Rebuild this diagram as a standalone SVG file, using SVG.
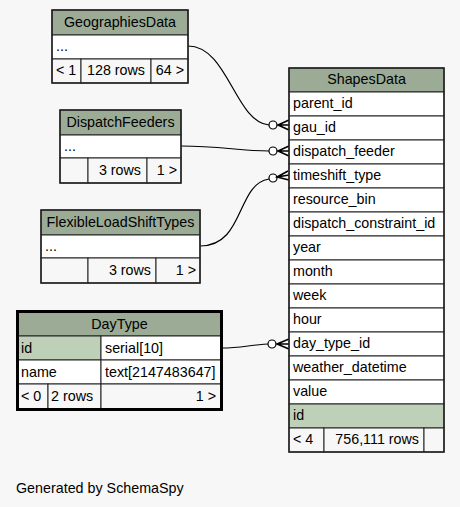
<svg xmlns="http://www.w3.org/2000/svg" width="460" height="507" viewBox="0 0 460 507">
<style>
text{font-family:"Liberation Sans",Arial,sans-serif;font-size:14.3px;fill:#000}
.hd{fill:#9bab96}
.row{fill:#ffffff}
.pk{fill:#bed1b8}
.ft{fill:#f7f7f7}
.cell{stroke:#222;stroke-width:1}
.outer{fill:none;stroke:#222;stroke-width:1.5}
.thick{fill:none;stroke:#000;stroke-width:3}
.c{text-anchor:middle}
.e{text-anchor:end}
.edge{fill:none;stroke:#000;stroke-width:1.2}
.odot{fill:#fff;stroke:#000;stroke-width:1.2}
.crow{fill:none;stroke:#000;stroke-width:1.6}
</style>
<rect x="0" y="0" width="460" height="507" fill="#f7f7f7"/>

<g id="edges">
  <path class="edge" d="M188,46 C228,46 235,122 269,125"/>
  <circle class="odot" cx="273" cy="125" r="4"/>
  <path class="crow" d="M289,120 L278,125 L289,130 M278,125 L289,125"/>

  <path class="edge" d="M181,146 C220,146 240,151 269,151"/>
  <circle class="odot" cx="273" cy="151" r="4"/>
  <path class="crow" d="M289,146 L278,151 L289,156 M278,151 L289,151"/>

  <path class="edge" d="M200,246 C245,246 236,184 269,179"/>
  <circle class="odot" cx="273" cy="178" r="4"/>
  <path class="crow" d="M288,171 L277,177 L289,180 M277,177 L289,175"/>

  <path class="edge" d="M222,348 C240,348 250,345 268,344"/>
  <circle class="odot" cx="272" cy="344" r="4"/>
  <path class="crow" d="M289,339 L277,344 L289,349 M277,344 L289,344"/>
</g>

<g id="GeographiesData">
  <rect class="hd cell" x="52" y="10" width="136" height="25"/>
  <rect class="row cell" x="52" y="35" width="136" height="24"/>
  <rect class="ft cell" x="52" y="59" width="29" height="24"/>
  <rect class="ft cell" x="81" y="59" width="70" height="24"/>
  <rect class="ft cell" x="151" y="59" width="37" height="24"/>
  <rect class="outer" x="52" y="10" width="136" height="73"/>
  <text class="c" x="120" y="27">GeographiesData</text>
  <text x="56" y="51">...</text>
  <text x="56" y="75">&lt; 1</text>
  <text class="e" x="145" y="75">128 rows</text>
  <text class="e" x="184" y="75">64 &gt;</text>
</g>

<g id="DispatchFeeders">
  <rect class="hd cell" x="60" y="110" width="121" height="25"/>
  <rect class="row cell" x="60" y="135" width="121" height="23"/>
  <rect class="ft cell" x="60" y="158" width="28" height="25"/>
  <rect class="ft cell" x="88" y="158" width="59" height="25"/>
  <rect class="ft cell" x="147" y="158" width="34" height="25"/>
  <rect class="outer" x="60" y="110" width="121" height="73"/>
  <text class="c" x="120.5" y="127">DispatchFeeders</text>
  <text x="64" y="151">...</text>
  <text class="e" x="141" y="175">3 rows</text>
  <text class="e" x="177" y="175">1 &gt;</text>
</g>

<g id="FlexibleLoadShiftTypes">
  <rect class="hd cell" x="41" y="210" width="159" height="25"/>
  <rect class="row cell" x="41" y="235" width="159" height="23"/>
  <rect class="ft cell" x="41" y="258" width="47" height="25"/>
  <rect class="ft cell" x="88" y="258" width="68" height="25"/>
  <rect class="ft cell" x="156" y="258" width="44" height="25"/>
  <rect class="outer" x="41" y="210" width="159" height="73"/>
  <text class="c" x="120.5" y="227">FlexibleLoadShiftTypes</text>
  <text x="45" y="251">...</text>
  <text class="e" x="151" y="275">3 rows</text>
  <text class="e" x="196" y="275">1 &gt;</text>
</g>

<g id="DayType">
  <rect class="hd cell" x="18" y="312" width="203" height="24"/>
  <rect class="pk cell" x="18" y="336" width="83" height="24"/>
  <rect class="row cell" x="101" y="336" width="120" height="24"/>
  <rect class="row cell" x="18" y="360" width="83" height="24"/>
  <rect class="row cell" x="101" y="360" width="120" height="24"/>
  <rect class="ft cell" x="18" y="384" width="30" height="25"/>
  <rect class="ft cell" x="48" y="384" width="53" height="25"/>
  <rect class="ft cell" x="101" y="384" width="120" height="25"/>
  <rect class="thick" x="17.5" y="311.5" width="204" height="98"/>
  <text class="c" x="119.5" y="329">DayType</text>
  <text x="21" y="353">id</text>
  <text x="105" y="353">serial[10]</text>
  <text x="21" y="377">name</text>
  <text x="105" y="377">text[2147483647]</text>
  <text x="21" y="401">&lt; 0</text>
  <text x="51" y="401">2 rows</text>
  <text class="e" x="216" y="401">1 &gt;</text>
</g>

<g id="ShapesData">
  <rect class="hd cell" x="289" y="68" width="155" height="24"/>
  <rect class="row cell" x="289" y="92" width="155" height="24"/>
  <rect class="row cell" x="289" y="116" width="155" height="24"/>
  <rect class="row cell" x="289" y="140" width="155" height="24"/>
  <rect class="row cell" x="289" y="164" width="155" height="24"/>
  <rect class="row cell" x="289" y="188" width="155" height="24"/>
  <rect class="row cell" x="289" y="212" width="155" height="24"/>
  <rect class="row cell" x="289" y="236" width="155" height="24"/>
  <rect class="row cell" x="289" y="260" width="155" height="24"/>
  <rect class="row cell" x="289" y="284" width="155" height="24"/>
  <rect class="row cell" x="289" y="308" width="155" height="24"/>
  <rect class="row cell" x="289" y="332" width="155" height="24"/>
  <rect class="row cell" x="289" y="356" width="155" height="24"/>
  <rect class="row cell" x="289" y="380" width="155" height="24"/>
  <rect class="pk cell" x="289" y="404" width="155" height="24"/>
  <rect class="ft cell" x="289" y="428" width="35" height="24"/>
  <rect class="ft cell" x="324" y="428" width="100" height="24"/>
  <rect class="ft cell" x="424" y="428" width="20" height="24"/>
  <rect class="outer" x="289" y="68" width="155" height="384"/>
  <text class="c" x="366.5" y="84">ShapesData</text>
  <text x="293" y="108">parent_id</text>
  <text x="293" y="132">gau_id</text>
  <text x="293" y="156">dispatch_feeder</text>
  <text x="293" y="180">timeshift_type</text>
  <text x="293" y="204">resource_bin</text>
  <text x="293" y="228">dispatch_constraint_id</text>
  <text x="293" y="252">year</text>
  <text x="293" y="276">month</text>
  <text x="293" y="300">week</text>
  <text x="293" y="324">hour</text>
  <text x="293" y="348">day_type_id</text>
  <text x="293" y="372">weather_datetime</text>
  <text x="293" y="396">value</text>
  <text x="293" y="420">id</text>
  <text x="293" y="444">&lt; 4</text>
  <text class="e" x="419" y="444">756,111 rows</text>
</g>

<text x="16" y="493">Generated by SchemaSpy</text>
</svg>
